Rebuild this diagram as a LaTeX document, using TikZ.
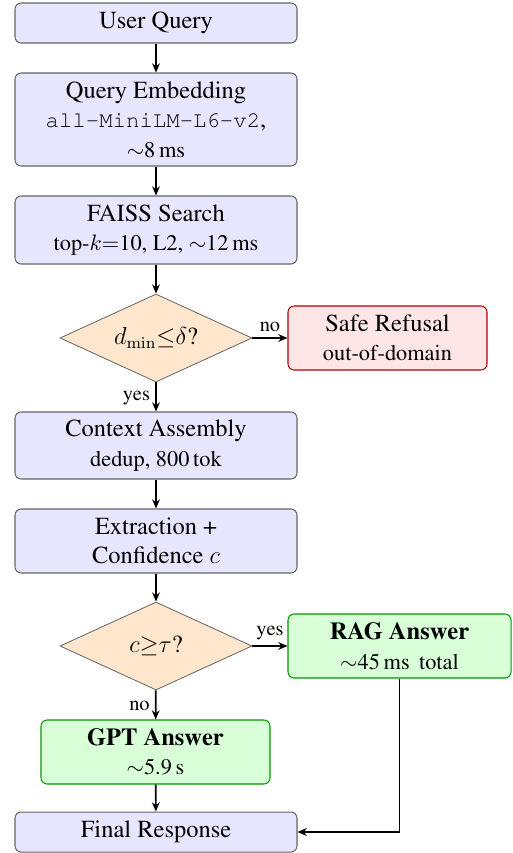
\documentclass[tikz,border=0pt]{standalone}
\usepackage[T1]{fontenc}
\usepackage{times}
\usetikzlibrary{shapes.geometric,arrows.meta,positioning}
\newcommand\pxu{0.49pt}
\newcommand\sml{\fontsize{10.95}{13.6}\selectfont}
\newcommand\ftn{\fontsize{10}{12}\selectfont}
\definecolor{procfill}{RGB}{230,230,255}
\definecolor{decfill}{RGB}{255,230,204}
\definecolor{refill}{RGB}{255,230,230}
\definecolor{ansfill}{RGB}{217,255,217}
\tikzset{
  basefont/.style={font=\fontsize{12}{14.5}\selectfont},
  procbox/.style={draw=black!60, line width=0.5pt, fill=procfill, rounded corners=3pt,
    minimum width={282*\pxu}, align=center, inner sep=1pt, basefont},
  decbox/.style={diamond, draw=black!60, line width=0.4pt, fill=decfill, aspect=2.18,
    minimum width={192*\pxu}, minimum height={88*\pxu}, inner sep=0pt, basefont},
  refbox/.style={draw=red!70!black, line width=0.5pt, fill=refill, rounded corners=3pt,
    minimum width={199*\pxu}, minimum height={64*\pxu}, align=center, inner sep=1pt, basefont},
  ansbox/.style={draw=green!60!black, line width=0.5pt, fill=ansfill, rounded corners=3pt,
    minimum height={64*\pxu}, align=center, inner sep=1pt, basefont},
  flow/.style={line width=0.9pt, -{Stealth[length=4.5pt,width=3.8pt]}},
  lbl/.style={font=\ftn, inner sep=2.5pt}
}
\begin{document}
\begin{tikzpicture}[x=\pxu,y=-\pxu]
\useasboundingbox (0,0) rectangle (512,853);
\node[procbox, minimum height={40*\pxu}] (uq) at (156,23) {User Query};
\node[procbox, minimum height={93*\pxu}] (qe) at (156,119.5) {Query Embedding\\ {\sml\texttt{all-MiniLM-L6-v2}},\\ {\sml $\sim$8\,ms}};
\node[procbox, minimum height={68*\pxu}] (fs) at (156,230) {FAISS Search\\ {\sml top-$k{=}$10, L2, $\sim$12\,ms}};
\node[decbox] (d1) at (156,338) {$d_{\min}{\le}\delta$?};
\node[refbox] (sr) at (387.5,338) {Safe Refusal\\ {\sml out-of-domain}};
\node[procbox, minimum height={67*\pxu}] (ca) at (156,445.5) {Context Assembly\\ {\sml dedup, 800\,tok}};
\node[procbox, minimum height={64*\pxu}] (ex) at (156,541) {Extraction +\\ Confidence $c$};
\node[decbox] (d2) at (156,646) {$c{\ge}\tau$?};
\node[ansbox, minimum width={223*\pxu}] (rag) at (399.5,646) {\textbf{RAG Answer}\\ {\sml $\sim$45\,ms\, total}};
\node[ansbox, minimum width={229*\pxu}] (gpt) at (155.5,752) {\textbf{GPT Answer}\\ {\sml $\sim$5.9\,s}};
\node[procbox, minimum height={40*\pxu}] (fr) at (156,832) {Final Response};

\draw[flow] (uq) -- (qe);
\draw[flow] (qe) -- (fs);
\draw[flow] (fs) -- (d1);
\draw[flow] (d1) -- node[lbl, above] {no} (sr);
\draw[flow] (d1) -- node[lbl, left, pos=0.55] {yes} (ca);
\draw[flow] (ca) -- (ex);
\draw[flow] (ex) -- (d2);
\draw[flow] (d2) -- node[lbl, above] {yes} (rag);
\draw[flow] (d2) -- node[lbl, left, pos=0.55] {no} (gpt);
\draw[flow] (gpt) -- (fr);
\draw[flow] (rag.south) |- (fr.east);
\end{tikzpicture}
\end{document}
